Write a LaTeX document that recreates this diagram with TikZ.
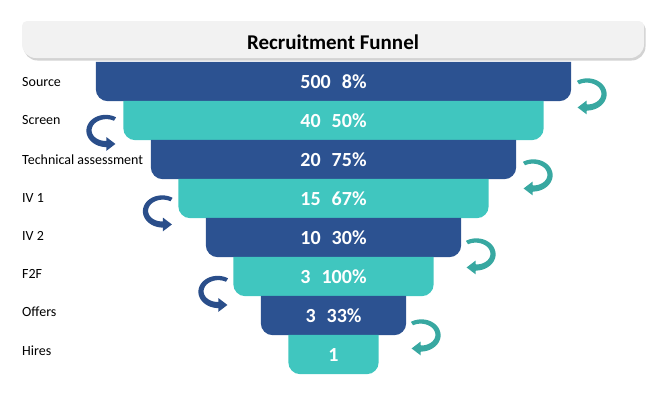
\documentclass[tikz,border=0pt]{standalone}
\usepackage{fontspec}
\setmainfont{Carlito}
\usetikzlibrary{arrows.meta,backgrounds,shadows,calc}
\definecolor{dblue}{RGB}{44,82,145}
\definecolor{teal1}{RGB}{64,198,191}
\definecolor{tealarr}{RGB}{56,168,161}
\definecolor{bluearr}{RGB}{42,78,138}
\definecolor{titlebg}{RGB}{242,242,242}
\begin{document}
\begin{tikzpicture}[x=1pt,y=1pt,
  bar/.style={minimum height=39pt, inner sep=0pt, text=white, font=\fontsize{20}{24}\selectfont\bfseries},
  lbl/.style={anchor=west, inner sep=0pt, text=black, font=\fontsize{14}{17}\selectfont},
  titletext/.style={inner sep=0pt, text=black, font=\fontsize{21}{25}\selectfont\bfseries},
  headr/.style={draw=tealarr, line width=6.2pt, -{Triangle[width=13pt,length=9pt]}},
  headl/.style={draw=bluearr, line width=6.2pt, -{Triangle[width=13pt,length=9pt]}},
  barfill/.style={fill=#1, draw=none},
]
\useasboundingbox (0,0) rectangle (663,-397);

% title
\node[titletext] (title) at (333,-42) {Recruitment Funnel};

% bars
\node[bar, minimum width=475pt] (b1) at (333.5,-81.5)  {500\hspace{11pt}8\%};
\node[bar, minimum width=420pt] (b2) at (333.5,-120.5) {40\hspace{11pt}50\%};
\node[bar, minimum width=365pt] (b3) at (333.5,-159.5) {20\hspace{11pt}75\%};
\node[bar, minimum width=310pt] (b4) at (333.5,-198.5) {15\hspace{11pt}67\%};
\node[bar, minimum width=255pt] (b5) at (333.5,-237.5) {10\hspace{11pt}30\%};
\node[bar, minimum width=200pt] (b6) at (333.5,-276.5) {3\hspace{11pt}100\%};
\node[bar, minimum width=145pt] (b7) at (333.5,-315.5) {3\hspace{11pt}33\%};
\node[bar, minimum width=90pt]  (b8) at (333.5,-354.5) {1};

\begin{pgfonlayer}{background}
  \fill[titlebg, drop shadow={shadow xshift=1.5pt,shadow yshift=-2.5pt,opacity=0.35}]
    (27,-21) -- (639,-21) arc[start angle=90,end angle=0,radius=5pt]
    -- (644,-44) arc[start angle=0,end angle=-90,radius=14pt]
    -- (36,-58) arc[start angle=-90,end angle=-180,radius=14pt]
    -- (22,-26) arc[start angle=180,end angle=90,radius=5pt] -- cycle;
  \foreach \b/\c in {b1/dblue,b2/teal1,b3/dblue,b4/teal1,b5/dblue,b6/teal1,b7/dblue,b8/teal1}{
    \fill[barfill=\c] (\b.north west) -- (\b.north east)
      -- ([yshift=12pt]\b.south east) arc[start angle=0,end angle=-90,radius=12pt]
      -- ([xshift=12pt]\b.south west) arc[start angle=-90,end angle=-180,radius=12pt]
      -- cycle;
  }
\end{pgfonlayer}

% labels
\node[lbl] (l1) at (22,-82)  {Source};
\node[lbl] (l2) at (22,-120) {Screen};
\node[lbl] (l3) at (22,-160) {Technical assessment};
\node[lbl] (l4) at (22,-198) {IV 1};
\node[lbl] (l5) at (22,-236) {IV 2};
\node[lbl] (l6) at (22,-274) {F2F};
\node[lbl] (l7) at (22,-312) {Offers};
\node[lbl] (l8) at (22,-351) {Hires};

% curved arrows (tapered bands with heads)
\coordinate (c1) at (587,-94);
\coordinate (c3) at (533,-175);
\coordinate (c5) at (476,-254);
\coordinate (c7) at (421,-335);
\coordinate (c2) at (106,-130.5);
\coordinate (c4) at (162.5,-211);
\coordinate (c6) at (218,-291.5);

\foreach \c in {c1,c3,c5,c7}{
  \begin{scope}[shift={(\c)}]
    \fill[tealarr]
      plot[domain=122:-95,samples=50,variable=\t]
        ({(17+2.0+1.1*(122-\t)/217)*cos(\t)},{(13.5+2.0+1.1*(122-\t)/217)*sin(\t)})
      -- plot[domain=-95:122,samples=50,variable=\t]
        ({(17-2.0-1.1*(122-\t)/217)*cos(\t)},{(13.5-2.0-1.1*(122-\t)/217)*sin(\t)})
      -- cycle;
    \draw[headr] (-95:17pt and 13.5pt) -- ++(-8pt,0);
  \end{scope}
}
\foreach \c in {c2,c4,c6}{
  \begin{scope}[shift={(\c)}]
    \fill[bluearr]
      plot[domain=58:275,samples=50,variable=\t]
        ({(17+2.0+1.1*(\t-58)/217)*cos(\t)},{(13.5+2.0+1.1*(\t-58)/217)*sin(\t)})
      -- plot[domain=275:58,samples=50,variable=\t]
        ({(17-2.0-1.1*(\t-58)/217)*cos(\t)},{(13.5-2.0-1.1*(\t-58)/217)*sin(\t)})
      -- cycle;
    \draw[headl] (275:17pt and 13.5pt) -- ++(8pt,0);
  \end{scope}
}
\end{tikzpicture}
\end{document}
